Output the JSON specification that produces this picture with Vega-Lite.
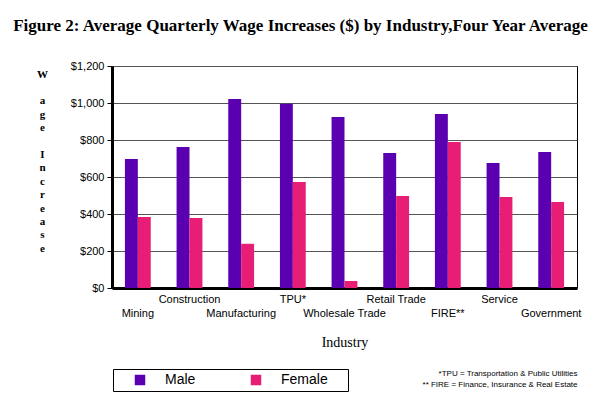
{
  "$schema": "https://vega.github.io/schema/vega-lite/v6.json",
  "autosize": {"type": "none"},
  "width": 465,
  "height": 222,
  "padding": {"left": 112, "top": 66, "right": 22, "bottom": 111},
  "background": "white",
  "title": {
    "text": "Figure 2:  Average Quarterly Wage Increases ($) by Industry,Four Year Average",
    "font": "Liberation Serif",
    "fontSize": 17,
    "fontWeight": "bold",
    "color": "black",
    "anchor": "middle",
    "dx": -44,
    "offset": 25
  },
  "data": {
    "values": [
      {"Industry": "Mining", "Sex": "Male", "Increase": 697},
      {"Industry": "Mining", "Sex": "Female", "Increase": 384},
      {"Industry": "Construction", "Sex": "Male", "Increase": 762},
      {"Industry": "Construction", "Sex": "Female", "Increase": 378},
      {"Industry": "Manufacturing", "Sex": "Male", "Increase": 1022},
      {"Industry": "Manufacturing", "Sex": "Female", "Increase": 239},
      {"Industry": "TPU*", "Sex": "Male", "Increase": 996},
      {"Industry": "TPU*", "Sex": "Female", "Increase": 573},
      {"Industry": "Wholesale Trade", "Sex": "Male", "Increase": 924},
      {"Industry": "Wholesale Trade", "Sex": "Female", "Increase": 38},
      {"Industry": "Retail Trade", "Sex": "Male", "Increase": 730},
      {"Industry": "Retail Trade", "Sex": "Female", "Increase": 497},
      {"Industry": "FIRE**", "Sex": "Male", "Increase": 940},
      {"Industry": "FIRE**", "Sex": "Female", "Increase": 789},
      {"Industry": "Service", "Sex": "Male", "Increase": 676},
      {"Industry": "Service", "Sex": "Female", "Increase": 492},
      {"Industry": "Government", "Sex": "Male", "Increase": 735},
      {"Industry": "Government", "Sex": "Female", "Increase": 465}
    ]
  },
  "layer": [
    {
      "mark": {"type": "bar"},
      "encoding": {
        "x": {
          "field": "Industry",
          "type": "nominal",
          "sort": null,
          "scale": {"paddingInner": 0.5, "paddingOuter": 0.25},
          "axis": {
            "orient": "bottom",
            "title": "Industry",
            "titleFont": "Liberation Serif",
            "titleFontSize": 14,
            "titleFontWeight": "normal",
            "titleColor": "black",
            "titlePadding": 17,
            "labelAngle": 0,
            "labelFont": "Liberation Sans",
            "labelFontSize": 11,
            "labelColor": "black",
            "labelPadding": 5,
            "labelLineHeight": 14,
            "labelExpr": "indexof(['Mining', 'Manufacturing', 'Wholesale Trade', 'FIRE**', 'Government'], datum.value) >= 0 ? ['\u200b', datum.label] : datum.label",
            "ticks": false,
            "domainColor": "black",
            "domainWidth": 3
          }
        },
        "xOffset": {
          "field": "Sex",
          "type": "nominal",
          "sort": ["Male", "Female"],
          "scale": {"paddingInner": 0, "paddingOuter": 0}
        },
        "y": {
          "field": "Increase",
          "type": "quantitative",
          "scale": {"domain": [0, 1200], "nice": false},
          "axis": {
            "values": [0, 200, 400, 600, 800, 1000, 1200],
            "format": "$,.0f",
            "title": ["W", "\u200b", "a", "g", "e", "\u200b", "I", "n", "c", "r", "e", "a", "s", "e"],
            "titleAngle": 0,
            "titleFont": "Liberation Serif",
            "titleFontSize": 11,
            "titleFontWeight": "bold",
            "titleColor": "black",
            "titleLineHeight": 13.4,
            "titleAlign": "center",
            "titleBaseline": "top",
            "titleX": -70,
            "titleY": 2,
            "labelFont": "Liberation Sans",
            "labelFontSize": 11,
            "labelColor": "black",
            "labelPadding": 3,
            "tickColor": "black",
            "tickSize": 5,
            "tickWidth": 1,
            "domainColor": "black",
            "domainWidth": 3,
            "grid": true,
            "gridColor": "#555555",
            "gridWidth": 1.2
          }
        },
        "color": {
          "field": "Sex",
          "type": "nominal",
          "scale": {"domain": ["Male", "Female"], "range": ["#5a00b0", "#e81e76"]},
          "legend": {
            "orient": "none",
            "legendX": 1,
            "legendY": 303,
            "direction": "horizontal",
            "title": null,
            "symbolType": "square",
            "symbolSize": 110,
            "symbolStrokeWidth": 0,
            "symbolOpacity": 1,
            "symbolOffset": 16,
            "labelFont": "Liberation Sans",
            "labelFontSize": 14,
            "labelColor": "black",
            "labelOffset": 18,
            "labelExpr": "datum.label === 'Female' ? 'Female\u00a0\u00a0\u00a0\u00a0\u200b' : datum.label",
            "columnPadding": 37,
            "padding": 4,
            "strokeColor": "black",
            "fillColor": "white"
          }
        }
      }
    },
    {
      "mark": {"type": "rule", "strokeOpacity": 0},
      "encoding": {
        "x": {
          "field": "Industry",
          "type": "nominal",
          "sort": null,
          "axis": {
            "orient": "bottom",
            "labels": false,
            "ticks": false,
            "domain": false,
            "grid": false,
            "title": ["*TPU = Transportation & Public Utilities", "** FIRE = Finance, Insurance & Real Estate"],
            "titleFont": "Liberation Sans",
            "titleFontSize": 8,
            "titleFontWeight": "normal",
            "titleColor": "black",
            "titleLineHeight": 11,
            "titleAnchor": "end",
            "titleAlign": "right",
            "titleBaseline": "top",
            "titleY": 81
          }
        }
      }
    }
  ],
  "resolve": {"scale": {"x": "independent"}},
  "config": {
    "view": {"stroke": "black", "strokeWidth": 1}
  }
}
